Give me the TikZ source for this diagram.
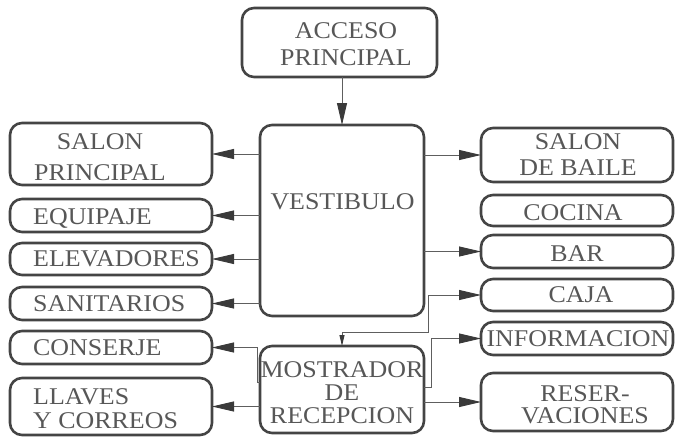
\documentclass[tikz,border=0pt]{standalone}
\usepackage{fontspec}
\setmainfont{Liberation Serif}[FakeStretch=1.08]
\usetikzlibrary{arrows.meta}
\definecolor{boxc}{HTML}{444444}
\definecolor{tipc}{HTML}{3A3A3A}
\definecolor{txtc}{HTML}{575757}
\definecolor{linec}{HTML}{5E5E5E}
\tikzset{
  box/.style={draw=boxc, line width=2.6pt, rounded corners=12pt, inner sep=0pt, outer sep=0pt},
  txt/.style={text=txtc, inner sep=0pt, font=\fontsize{24}{26}\selectfont},
  bigtip/.tip={Triangle[length=22pt,width=10pt,color=tipc]},
  smalltip/.tip={Triangle[length=11pt,width=5pt,color=tipc]},
  conn/.style={draw=linec, line width=0.9pt, -{bigtip}}
}
\begin{document}
\begin{tikzpicture}[x=1pt,y=-1pt]
\useasboundingbox (0,0) rectangle (676,436);
% boxes
\node[box, minimum width=195pt, minimum height=69pt] (acc) at (339.5,42.5) {};
\node[box, minimum width=164pt, minimum height=191pt] (vest) at (342,220.5) {};
\node[box, minimum width=164pt, minimum height=87pt] (most) at (342,389.5) {};
\node[box, minimum width=202pt, minimum height=62pt] (sp) at (111,154) {};
\node[box, minimum width=202pt, minimum height=33pt] (equ) at (111,215.5) {};
\node[box, minimum width=202pt, minimum height=32pt] (ele) at (111,259) {};
\node[box, minimum width=202pt, minimum height=33pt] (san) at (111,303.5) {};
\node[box, minimum width=202pt, minimum height=33pt] (con) at (111,347.5) {};
\node[box, minimum width=202pt, minimum height=57pt] (lla) at (111,406.5) {};
\node[box, minimum width=192pt, minimum height=54pt] (sdb) at (577,155) {};
\node[box, minimum width=192pt, minimum height=31pt] (coc) at (577,210.5) {};
\node[box, minimum width=192pt, minimum height=33pt] (bar) at (577,251.5) {};
\node[box, minimum width=192pt, minimum height=32pt] (caja) at (577,295) {};
\node[box, minimum width=192pt, minimum height=33pt] (info) at (577,338.5) {};
\node[box, minimum width=192pt, minimum height=58pt] (res) at (577,402) {};
% texts (multi-line: base anchor = last line's baseline)
\node[txt, align=center, anchor=base] (tacc) at (346,65) {ACCESO\\PRINCIPAL};
\node[txt, anchor=base] (tvest) at (342.5,209) {VESTIBULO};
\node[txt, align=center, anchor=base] (tmost) at (342,423) {MOSTRADOR\\[-3pt]DE\\[-3pt]RECEPCION};
\node[txt, align=center, anchor=base] (tsp) at (100,180) {SALON\\[5pt]PRINCIPAL};
\node[txt, anchor=base west] (tequ) at (33,224) {EQUIPAJE};
\node[txt, anchor=base west] (tele) at (33,266) {ELEVADORES};
\node[txt, anchor=base west] (tsan) at (33,311) {SANITARIOS};
\node[txt, anchor=base west] (tcon) at (33,355) {CONSERJE};
\node[txt, align=left, anchor=base west] (tlla) at (33,428) {LLAVES\\[-2pt]Y CORREOS};
\node[txt, align=center, anchor=base] (tsdb) at (578,175) {SALON\\DE BAILE};
\node[txt, anchor=base] (tcoc) at (573,220) {COCINA};
\node[txt, anchor=base] (tbar) at (577,261) {BAR};
\node[txt, anchor=base] (tcaja) at (581,302) {CAJA};
\node[txt, anchor=base] (tinfo) at (578,346) {INFORMACION};
\node[txt, align=center, anchor=base] (tres) at (585,423) {RESER-\\[-4pt]VACIONES};
% helper coordinates
\coordinate (cj) at (428,332);
\coordinate (in) at (431,387);
\coordinate (cs) at (257,382);
% connectors
\draw[conn] (acc.south -| vest.north) -- (vest.north);
\draw[conn] (vest.west |- sp.east) -- (sp.east);
\draw[conn] (vest.west |- equ.east) -- (equ.east);
\draw[conn] (vest.west |- ele.east) -- (ele.east);
\draw[conn] (vest.west |- san.east) -- (san.east);
\draw[conn] (vest.east |- sdb.west) -- (sdb.west);
\draw[conn] (vest.east |- bar.west) -- (bar.west);
\draw[draw=linec, line width=0.9pt, {smalltip}-{bigtip}] (most.north) -- (most.north |- cj) -- (cj) |- (caja.west);
\draw[conn] (most.east |- in) -- (in) |- (info.west);
\draw[conn] (most.east |- res.west) -- (res.west);
\draw[conn] (most.west |- cs) -- (cs) |- (con.east);
\draw[conn] (most.west |- lla.east) -- (lla.east);
\end{tikzpicture}
\end{document}
